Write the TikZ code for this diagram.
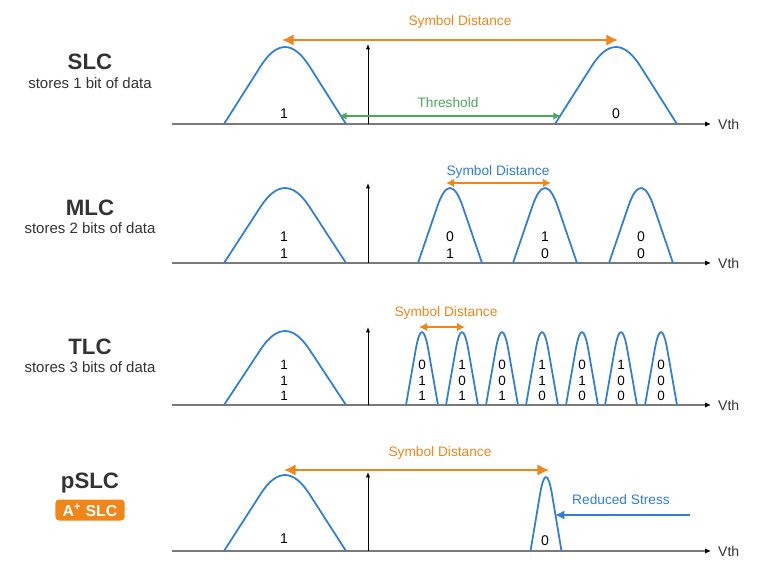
\documentclass[tikz,border=0pt]{standalone}
\usepackage{fontspec}
\setmainfont{Liberation Sans}
\usepackage{xcolor}
\usepackage{tikz}
\usetikzlibrary{arrows.meta, positioning, calc}
\definecolor{curveblue}{HTML}{2F7ED8}
\definecolor{distorange}{HTML}{F0861A}
\definecolor{threshgreen}{HTML}{4CA85A}
\definecolor{axisgray}{HTML}{7A7A7A}
\definecolor{labeldark}{HTML}{333333}

% one voltage distribution: centre x, base y, half width, height
\newcommand{\bellcurve}[4]{%
  \draw[curve] ({#1-#3},#2) -- ({#1-0.4*#3},{#2-0.75*#4})
    .. controls ({#1-0.133*#3},{#2-1.083*#4}) and ({#1+0.133*#3},{#2-1.083*#4}) .. ({#1+0.4*#3},{#2-0.75*#4})
    -- ({#1+#3},#2);}

\begin{document}
\begin{tikzpicture}[
    x=0.03cm, y=-0.03cm,
    curve/.style={
        draw=curveblue,
        line width=1.5pt,
        line join=round
    },
    haxis/.style={
        draw=axisgray,
        line width=1pt,
        -{Latex[length=5pt,width=4.5pt,color=black]}
    },
    vaxis/.style={
        draw=black,
        line width=0.6pt,
        -{Latex[length=4.5pt,width=3.5pt]}
    },
    bigdist/.style={
        draw=distorange,
        line width=2.4pt,
        {Latex[length=10pt,width=10pt]}-{Latex[length=10pt,width=10pt]}
    },
    smalldist/.style={
        draw=distorange,
        line width=1.8pt,
        {Latex[length=7pt,width=7.5pt]}-{Latex[length=7pt,width=7.5pt]}
    },
    threshold/.style={
        draw=threshgreen,
        line width=1.6pt,
        {Latex[length=6.5pt,width=6.5pt]}-{Latex[length=6.5pt,width=6.5pt]}
    },
    stress/.style={
        draw=curveblue,
        line width=1.6pt,
        -{Latex[length=8pt,width=8pt]}
    },
    celltitle/.style={
        text=labeldark,
        font=\fontsize{19}{22}\selectfont\bfseries
    },
    cellsub/.style={
        text=labeldark,
        font=\fontsize{12.8}{15}\selectfont
    },
    badge/.style={
        fill=distorange,
        rounded corners=3pt,
        text=white,
        font=\fontsize{13.5}{15}\selectfont\bfseries,
        minimum width=2.07cm,
        minimum height=0.63cm,
        inner sep=1pt
    },
    bits/.style={
        text=black,
        align=center,
        font=\fontsize{12}{14.5}\selectfont
    },
    tlcbits/.style={
        text=black,
        align=center,
        font=\fontsize{11.5}{13.2}\selectfont
    },
    vth/.style={
        anchor=west,
        text=labeldark,
        font=\fontsize{12}{14}\selectfont
    },
    orangetext/.style={
        text=distorange,
        font=\fontsize{11.7}{14}\selectfont
    },
    bluetext/.style={
        text=curveblue,
        font=\fontsize{11.7}{14}\selectfont
    },
    greentext/.style={
        text=threshgreen,
        font=\fontsize{11.7}{14}\selectfont
    }
]
\useasboundingbox (0,0) rectangle (778,563);

% left labels
\node[celltitle] (slc) at (90,62) {SLC};
\node[cellsub] (slcsub) at (90,83) {stores 1 bit of data};
\node[celltitle] (mlc) at (90,208) {MLC};
\node[cellsub] (mlcsub) at (90,228) {stores 2 bits of data};
\node[celltitle] (tlc) at (90,347) {TLC};
\node[cellsub] (tlcsub) at (90,367) {stores 3 bits of data};
\node[celltitle] (pslc) at (90,483) {pSLC};
\node[badge] (aplus) at (90,510) {A\textsuperscript{+} SLC};

% axes
\foreach \row/\base/\top in {s/124/44, m/263/183, t/405/327, p/551/472} {
    \coordinate (\row xl) at (172,\base);
    \coordinate (\row xr) at (711,\base);
    \coordinate (\row yb) at (368,\base);
    \coordinate (\row yt) at (368,\top);
    \draw[haxis] (\row xl) -- (\row xr);
    \draw[vaxis] (\row yb) -- (\row yt);
    \node[vth] (\row vth) at (714,\base) {Vth};
}

% SLC
\bellcurve{285}{124}{61}{77}
\bellcurve{616}{124}{61}{77}
\node[bits] (s1) at (284,114) {1};
\node[bits] (s0) at (616,114) {0};
\coordinate (sdl) at (282,40);
\coordinate (sdr) at (618,40);
\draw[bigdist] (sdl) -- (sdr);
\node[orangetext] (sdtext) at (460,22) {Symbol Distance};
\coordinate (thl) at (339,116);
\coordinate (thr) at (561,116);
\draw[threshold] (thl) -- (thr);
\node[greentext] (thtext) at (448,103) {Threshold};

% MLC
\bellcurve{285}{263}{61}{75}
\node[bits] (m11) at (284,245.5) {1\\1};
\foreach \px/\hi/\lo in {450/0/1, 545/1/0, 641/0/0} {
    \bellcurve{\px}{263}{32}{75}
    \node[bits] (m\px) at (\px,245.5) {\hi\\\lo};
}
\coordinate (mdl) at (446,183);
\coordinate (mdr) at (551,183);
\draw[smalldist] (mdl) -- (mdr);
\node[bluetext] (mdtext) at (498,172) {Symbol Distance};

% TLC
\bellcurve{285}{405}{61}{74}
\node[tlcbits] (t111) at (284,380.5) {1\\1\\1};
\foreach \px/\a/\b/\c in {422/0/1/1, 462/1/0/1, 502/0/0/1, 542/1/1/0, 582/0/1/0, 621/1/0/0, 661/0/0/0} {
    \bellcurve{\px}{405}{16}{73}
    \node[tlcbits] (t\px) at (\px,380.5) {\a\\\b\\\c};
}
\coordinate (tdl) at (419,327);
\coordinate (tdr) at (465,327);
\draw[smalldist] (tdl) -- (tdr);
\node[orangetext] (tdtext) at (446,313) {Symbol Distance};

% pSLC
\bellcurve{285}{551}{61}{76}
\bellcurve{546}{551}{15.5}{74}
\node[bits] (p1) at (284,539) {1};
\node[bits] (p0) at (545,541) {0};
\coordinate (pdl) at (284,470);
\coordinate (pdr) at (549,470);
\draw[bigdist] (pdl) -- (pdr);
\node[orangetext] (pdtext) at (440,453) {Symbol Distance};
\coordinate (rsfrom) at (690,515);
\coordinate (rsto) at (555,515);
\draw[stress] (rsfrom) -- (rsto);
\node[bluetext] (rstext) at (621,500) {Reduced Stress};

\end{tikzpicture}
\end{document}
